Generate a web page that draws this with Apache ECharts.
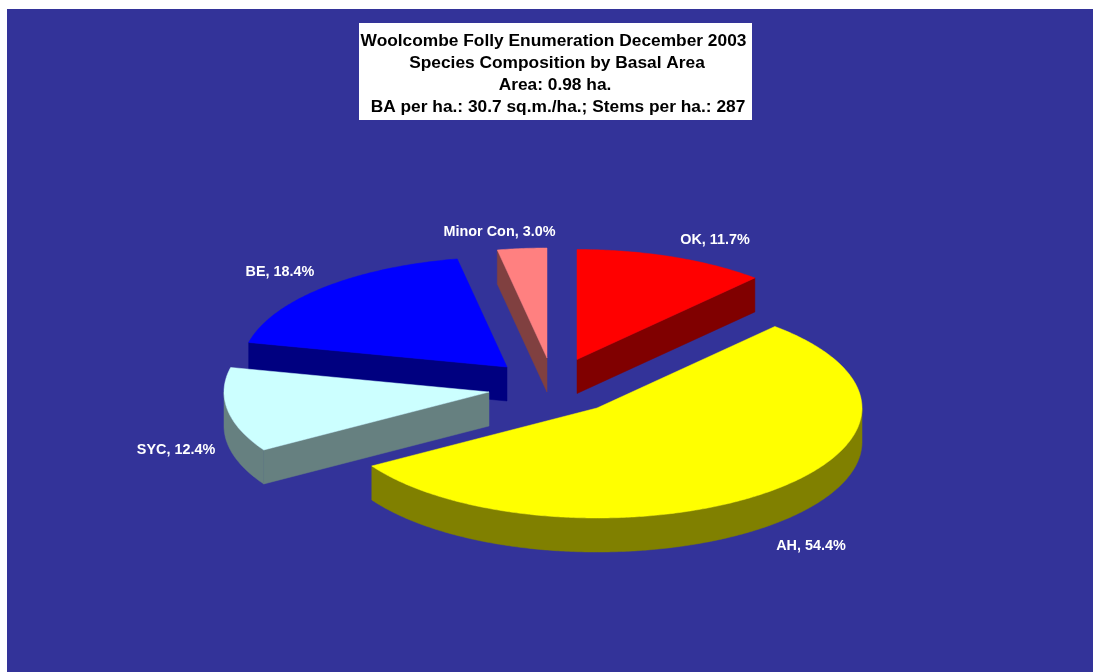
<!DOCTYPE html>
<html><head><meta charset="utf-8">
<style>html,body{margin:0;padding:0;background:#fff}#c{width:1093px;height:672px}</style>
<script src="https://cdn.jsdelivr.net/npm/echarts@6/dist/echarts.min.js"></script>
</head><body><div id="c"></div>
<script>
// ---- data ----
const categories = ['OK', 'AH', 'SYC', 'BE', 'Minor Con'];
const shares = [11.7, 54.4, 12.4, 18.4, 3.0];
const titleLines = [
  'Woolcombe Folly Enumeration December 2003',
  'Species Composition by Basal Area',
  'Area: 0.98 ha.',
  'BA per ha.: 30.7 sq.m./ha.; Stems per ha.: 287'
];
// ---- style and layout ----
const topColors = ['#ff0000', '#ffff00', '#ccffff', '#0000ff', '#ff8080'];
const wallColors = ['#800000', '#808000', '#668080', '#000080', '#804040'];
const paintRank = [1, 5, 4, 3, 2];
const hubs = [[577, 359.5], [597, 408], [489, 392], [507, 367], [547, 358]];
const labelCentres = [[715, 240], [811, 546], [176, 450], [280, 272], [499.5, 232]];
const titleCentres = [[553.5, 41], [557, 63], [555, 85], [558, 107]];
const RX = 265, RY = 110, DEPTH = 34, FONT = 'Liberation Sans, Arial, sans-serif';

const total = shares.reduce((a, b) => a + b, 0);
const starts = [];
shares.reduce((acc, v, i) => { starts[i] = acc; return acc + v; }, 0);

function rim(hub, t) { return [hub[0] + RX * Math.sin(t), hub[1] - RY * Math.cos(t)]; }
function down(p) { return [p[0], p[1] + DEPTH]; }
function arcPoints(hub, a, b) {
  const n = Math.max(2, Math.ceil((b - a) / 0.01)), pts = [];
  for (let k = 0; k <= n; k++) pts.push(rim(hub, a + (b - a) * k / n));
  return pts;
}
function poly(points, fill, z2) {
  return { type: 'polygon', z2, silent: true, shape: { points },
    style: { fill, stroke: fill, lineWidth: 0.5 } };
}
function renderItem(params, api) {
  const i = params.dataIndex, v = api.value(0), hub = hubs[i];
  const a = starts[i] / total * 2 * Math.PI, b = a + v / total * 2 * Math.PI;
  const z = paintRank[i] * 10, kids = [], wall = wallColors[i];
  const radial = t => { const r = rim(hub, t);
    return poly([hub, r, down(r), down(hub)], wall, z); };
  if (Math.sin(a) < 0) kids.push(radial(a));
  if (Math.sin(b) > 0) kids.push(radial(b));
  const fa = Math.max(a, Math.PI / 2), fb = Math.min(b, 1.5 * Math.PI);
  if (fb > fa) {
    const arc = arcPoints(hub, fa, fb);
    kids.push(poly(arc.concat(arc.map(down).reverse()), wall, z + 1));
  }
  kids.push(poly([hub].concat(arcPoints(hub, a, b)), topColors[i], z + 2));
  kids.push({ type: 'text', z2: 100, silent: true,
    x: labelCentres[i][0], y: labelCentres[i][1],
    style: { text: categories[i] + ', ' + v.toFixed(1) + '%', fill: '#ffffff',
      font: 'bold 14.4px ' + FONT, align: 'center', verticalAlign: 'middle' } });
  return { type: 'group', children: kids };
}

const chart = echarts.init(document.getElementById('c'), null, { renderer: 'canvas' });
chart.setOption({
  animation: false,
  backgroundColor: '#ffffff',
  graphic: [
    { type: 'rect', z: -2, silent: true, shape: { x: 7, y: 9, width: 1086, height: 663 }, style: { fill: '#333399' } },
    { type: 'rect', z: -1, silent: true, shape: { x: 359, y: 23, width: 393, height: 97 }, style: { fill: '#ffffff' } }
  ],
  title: titleLines.map((text, i) => ({
    text, left: titleCentres[i][0], top: titleCentres[i][1], padding: 0,
    textAlign: 'center', textVerticalAlign: 'middle',
    textStyle: { color: '#000000', fontFamily: FONT, fontWeight: 'bold', fontSize: 17.33 }
  })),
  series: [{
    type: 'custom', coordinateSystem: 'none', renderItem,
    data: shares.map(v => [v])
  }]
});
</script></body></html>
